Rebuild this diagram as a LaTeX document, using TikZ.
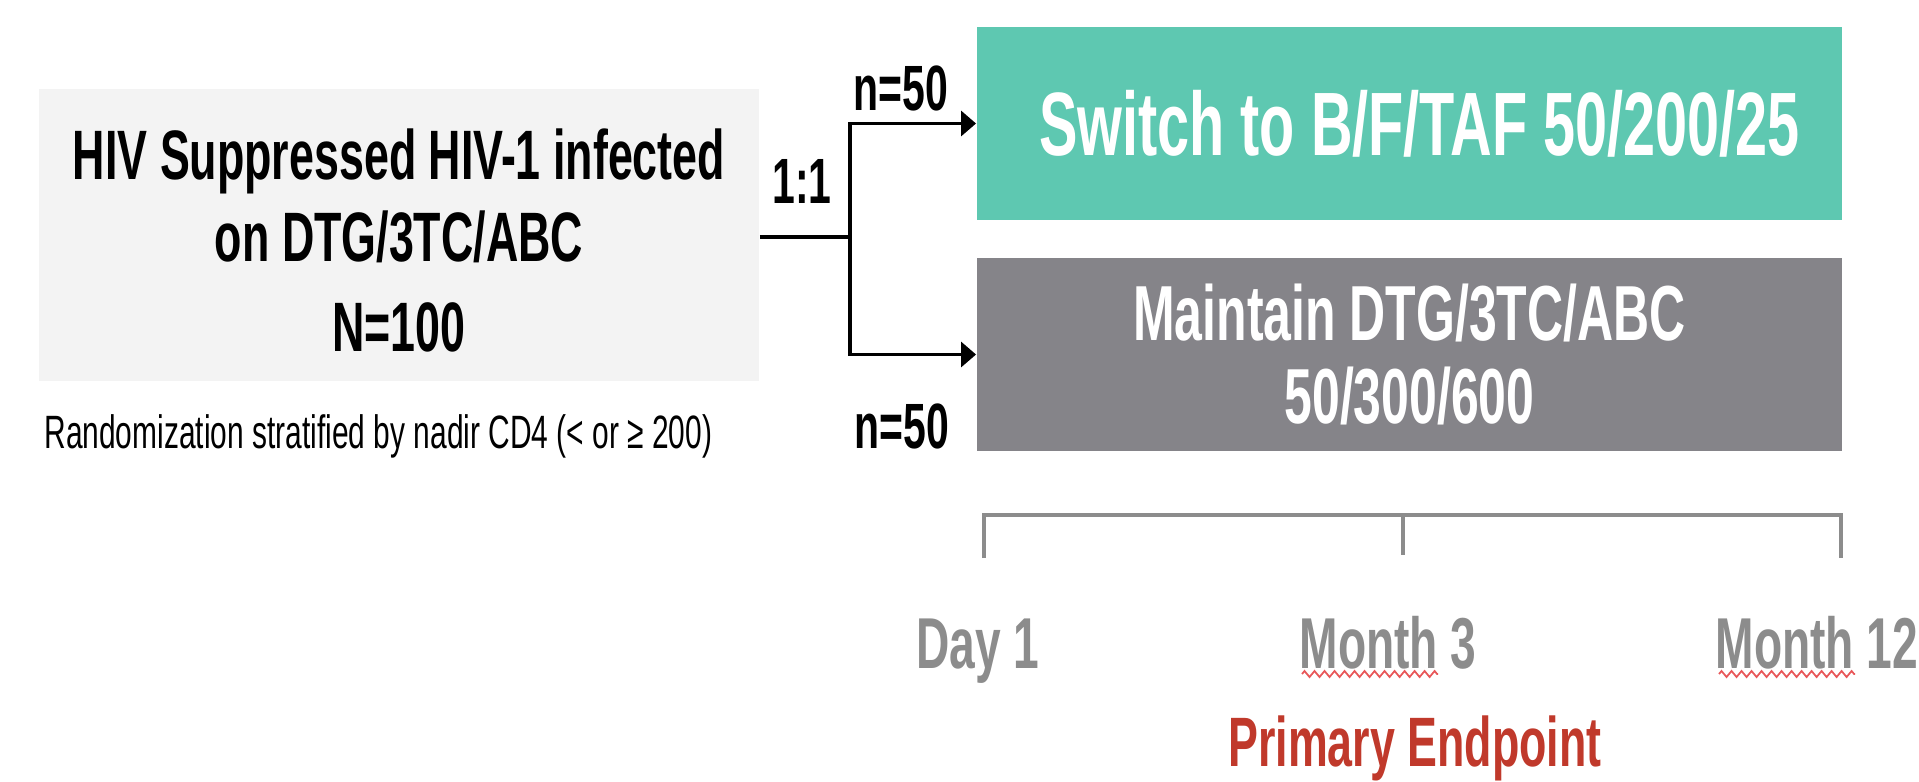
\documentclass[tikz,border=0pt]{standalone}
\usepackage{fontspec}
\setmainfont{Liberation Sans}[FakeStretch=0.64]
\usetikzlibrary{arrows.meta, positioning, decorations.pathmorphing}
\definecolor{cohortgray}{HTML}{F3F3F3}
\definecolor{switchteal}{HTML}{5EC8B1}
\definecolor{maintaingray}{HTML}{858489}
\definecolor{timegray}{HTML}{8C8C8C}
\definecolor{endpointred}{HTML}{C0392B}
\definecolor{spellred}{HTML}{E8585A}

\begin{document}
\begin{tikzpicture}[x=0.01cm, y=-0.01cm,
        cohort/.style={rectangle, fill=cohortgray, minimum width=7.2cm, minimum height=2.92cm, align=center, inner sep=0pt, font=\bfseries\fontsize{19.9}{23.3}\selectfont},
        arm/.style={rectangle, minimum width=8.65cm, minimum height=1.93cm, align=center, inner sep=0pt, text=white},
        armlabel/.style={anchor=base, font=\bfseries\fontsize{18.2}{20}\selectfont},
        timelabel/.style={anchor=base, text=timegray, font=\bfseries\fontsize{20.5}{22}\selectfont},
        line/.style={draw, line width=0.9pt, -{Triangle[length=0.15cm, width=0.25cm]}},
        tick/.style={draw=timegray, line width=1.1pt},
        spell/.style={draw=spellred, line width=0.5pt, decorate, decoration={zigzag, segment length=0.1cm, amplitude=0.03cm}}]

    \useasboundingbox (0,0) rectangle (1919,781);

    \node [cohort] (cohort) at (399,235) {\rule{0pt}{0.62cm}HIV Suppressed HIV-1 infected\\on DTG/3TC/ABC\\[2.3pt]N=100};
    \node [anchor=base west, font=\fontsize{13.3}{15}\selectfont] (strat) at (32,448) {Randomization stratified by nadir CD4 (< or ≥ 200)};

    \node [arm, fill=switchteal, font=\bfseries\fontsize{25.6}{28}\selectfont] (switch) at (1409.5,123.5) {\hspace{0.2cm}Switch to B/F/TAF 50/200/25};
    \node [arm, fill=maintaingray, font=\bfseries\fontsize{22.2}{23.6}\selectfont] (maintain) at (1409.5,354.5) {Maintain DTG/3TC/ABC\\50/300/600};

    % 1:1 split
    \coordinate (split) at (850,237);
    \draw [line width=0.9pt] (cohort.east |- split) -- (split);
    \path [line] (split) |- (switch.west);
    \path [line] (split) |- (maintain.west);

    \node [armlabel] (ratio) at (802,203) {1:1};
    \node [armlabel] (ntop) at (901,110) {n=50};
    \node [armlabel] (nbot) at (902,448) {n=50};

    % timeline
    \coordinate (day1) at (984,515);
    \coordinate (month3) at (1403,515);
    \coordinate (month12) at (1841,515);
    \path [tick] ([yshift=-0.43cm]day1) -- (day1) -- (month12) -- ([yshift=-0.43cm]month12);
    \path [tick] (month3) -- ([yshift=-0.40cm]month3);

    \node [timelabel] (lday1) at (978,668) {Day 1};
    \node [timelabel] (lmonth3) at (1388,668) {Month 3};
    \node [timelabel] (lmonth12) at (1817,668) {Month 12};
    \path [spell] (1302,674) -- (1438,674);
    \path [spell] (1719,674) -- (1855,674);

    \node [anchor=base, text=endpointred, font=\bfseries\fontsize{19.9}{22}\selectfont] (endpoint) at (1415,766) {Primary Endpoint};
\end{tikzpicture}
\end{document}
